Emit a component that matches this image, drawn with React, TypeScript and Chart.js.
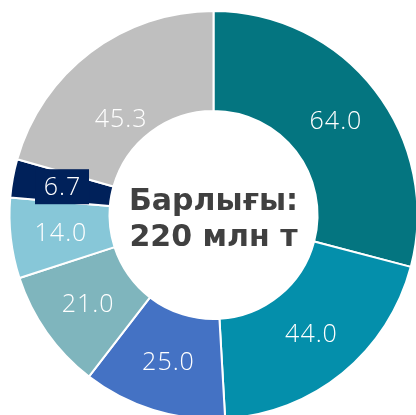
import React, { useEffect, useRef } from "react";
import { Chart, registerables } from "chart.js";

Chart.register(...registerables);

const categories = ["A", "B", "C", "D", "E", "F", "G"];
const values = [64.0, 44.0, 25.0, 21.0, 14.0, 6.7, 45.3];
const colors = ["#047580", "#048FAB", "#4472C4", "#7FB5BD", "#87C7D8", "#00215A", "#BFBFBF"];
const centerLines = ["Барлығы:", "220 млн т"];
const boxedIndex = 5;

const labelPlugin = {
  id: "sliceLabels",
  afterDatasetsDraw(chart: any) {
    const ctx = chart.ctx;
    const meta = chart.getDatasetMeta(0);
    ctx.save();
    ctx.font = "300 25px 'Open Sans'";
    try { (ctx as any).letterSpacing = "1px"; } catch (e) {}
    ctx.textAlign = "center";
    ctx.textBaseline = "middle";
    meta.data.forEach((arc: any, i: number) => {
      const p = arc.getCenterPoint();
      const txt = values[i].toFixed(1);
      // last label sits lower in its slice, as in the original layout
      const dy = i === values.length - 1 ? 27 : 0;
      if (i === boxedIndex) {
        ctx.fillStyle = colors[i];
        ctx.fillRect(p.x - 27, p.y - 18, 54, 35);
      }
      ctx.fillStyle = "#FFFFFF";
      ctx.fillText(txt, p.x + 0.5, p.y + 1 + dy);
    });
    try { (ctx as any).letterSpacing = "0px"; } catch (e) {}
    const cx = (chart.chartArea.left + chart.chartArea.right) / 2;
    const cy = (chart.chartArea.top + chart.chartArea.bottom) / 2;
    ctx.fillStyle = "#404040";
    ctx.font = "bold 30px 'DejaVu Sans'";
    ctx.fillText(centerLines[0], cx, cy - 13);
    ctx.fillText(centerLines[1], cx, cy + 23);
    ctx.restore();
  },
};

export default function App() {
  const ref = useRef<HTMLCanvasElement>(null);
  useEffect(() => {
    document.body.style.margin = "0";
    document.body.style.overflow = "hidden";
    const chart = new Chart(ref.current!, {
      type: "doughnut",
      data: {
        labels: categories,
        datasets: [
          {
            data: values,
            backgroundColor: colors,
            borderColor: "#FFFFFF",
            borderWidth: 2,
          },
        ],
      },
      options: {
        responsive: false,
        animation: false,
        radius: 204,
        cutout: "51%",
        layout: { padding: 0 },
        plugins: { legend: { display: false }, tooltip: { enabled: false } },
      },
      plugins: [labelPlugin],
    });
    return () => chart.destroy();
  }, []);
  return (
    <div style={{ position: "fixed", left: 0, top: 0 }}>
      <canvas ref={ref} width={427} height={430} style={{ display: "block" }} />
    </div>
  );
}
